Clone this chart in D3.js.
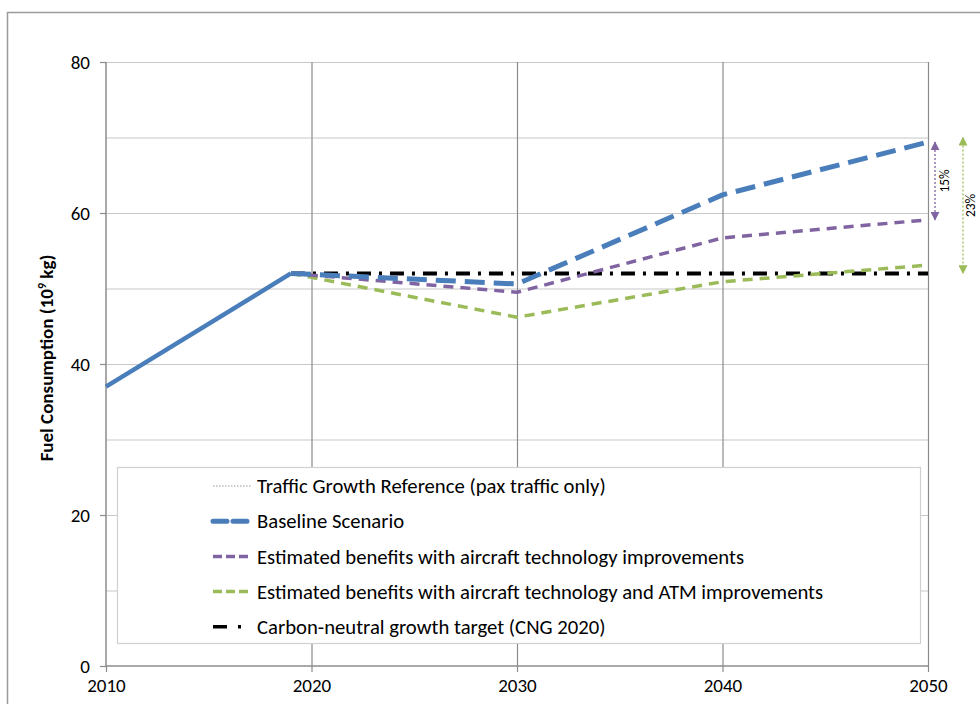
<!DOCTYPE html>
<html>
<head>
<meta charset="utf-8">
<script src="https://cdn.jsdelivr.net/npm/d3@7"></script>
<style>
  body { margin: 0; background: #fff; }
  svg text { font-family: Carlito, Calibri, Lato, "Open Sans", sans-serif; fill: #000; }
</style>
</head>
<body>
<svg id="chart" width="980" height="704"></svg>
<script>
// data
var histYears = [2010, 2019];
var histValues = [37, 52];

var projYears = [2019, 2030, 2040, 2050];
var baseline = [52, 50.6, 62.4, 69.4];
var aircraftTech = [52, 49.5, 56.7, 59.1];
var aircraftAtm = [52, 46.2, 50.9, 53.1];
var cngYears = [2019, 2050];
var cngValues = [52, 52];

var xTicks = [2010, 2020, 2030, 2040, 2050];
var yTicks = [0, 20, 40, 60, 80];
var yGrid = [10, 20, 30, 40, 50, 60, 70, 80];

var legendLabels = [
  "Traffic Growth Reference (pax traffic only)",
  "Baseline Scenario",
  "Estimated benefits with aircraft technology improvements",
  "Estimated benefits with aircraft technology and ATM improvements",
  "Carbon-neutral growth target (CNG 2020)"
];

var blue = "#4a7ebb", purple = "#8064a2", green = "#9bbb59";

var svg = d3.select("#chart");

// outer frame (runs off the right / bottom)
svg.append("rect")
  .attr("x", 7.5).attr("y", 12.5)
  .attr("width", 1000).attr("height", 1000)
  .attr("fill", "none").attr("stroke", "#9a9a9a").attr("stroke-width", 1.5);

var x = d3.scaleLinear().domain([2010, 2050]).range([106, 928]);
var y = d3.scaleLinear().domain([0, 80]).range([666, 62]);

// horizontal grid
svg.append("g").selectAll("line")
  .data(yGrid).enter().append("line")
  .attr("x1", x(2010)).attr("x2", x(2050))
  .attr("y1", function(d) { return y(d) + 0.5; })
  .attr("y2", function(d) { return y(d) + 0.5; })
  .attr("stroke", "#c8c8c8").attr("stroke-width", 1.2);

// vertical grid
svg.append("g").selectAll("line")
  .data(xTicks.slice(1)).enter().append("line")
  .attr("x1", function(d) { return x(d) + 0.5; })
  .attr("x2", function(d) { return x(d) + 0.5; })
  .attr("y1", y(80)).attr("y2", y(0))
  .attr("stroke", "#8c8c8c").attr("stroke-width", 1.2);

// axes
var yAxis = svg.append("g")
  .attr("transform", "translate(" + x(2010) + ",0)")
  .call(d3.axisLeft(y).tickValues(yTicks).tickSize(6).tickPadding(10));
var xAxis = svg.append("g")
  .attr("transform", "translate(0," + y(0) + ")")
  .call(d3.axisBottom(x).tickValues(xTicks).tickFormat(d3.format("d")).tickSize(6).tickPadding(7));

[yAxis, xAxis].forEach(function(a) {
  a.select(".domain").attr("stroke", "#8c8c8c").attr("stroke-width", 1.5);
  a.selectAll(".tick line").attr("stroke", "#8c8c8c").attr("stroke-width", 1.2);
  a.selectAll("text").attr("font-size", 19).attr("fill", "#000");
});
yAxis.select(".domain").remove();
yAxis.append("line").attr("y1", y(0)).attr("y2", y(80)).attr("stroke", "#8c8c8c").attr("stroke-width", 1.5);
xAxis.select(".domain").attr("d", "M" + x(2010) + ",0H" + x(2050));

// y label
var yl = svg.append("text")
  .attr("transform", "translate(53,358) rotate(-90)")
  .attr("text-anchor", "middle")
  .attr("font-size", 19).attr("font-weight", "bold");
yl.append("tspan").text("Fuel Consumption (10");
yl.append("tspan").attr("font-size", 12).attr("dy", -7).text("9");
yl.append("tspan").attr("dy", 7).text(" kg)");

var line = d3.line()
  .x(function(d) { return x(d[0]); })
  .y(function(d) { return y(d[1]); });

function series(years, vals, color, width, dash, cap) {
  svg.append("path")
    .datum(d3.zip(years, vals))
    .attr("d", line)
    .attr("fill", "none")
    .attr("stroke", color)
    .attr("stroke-width", width)
    .attr("stroke-dasharray", dash)
    .attr("stroke-linecap", cap || "butt")
    .attr("stroke-linejoin", "round");
}

series(histYears, histValues, blue, 4.5, null);
series(cngYears, cngValues, "#000", 4, "14,8,3,8");
series(projYears, aircraftAtm, green, 3.5, "10,7");
series(projYears, aircraftTech, purple, 3.5, "10,7");
series(projYears, baseline, blue, 5, "20,9");

// percentage arrows
svg.append("defs").selectAll("marker")
  .data([["pArr", purple], ["gArr", green]]).enter()
  .append("marker")
  .attr("id", function(d) { return d[0]; })
  .attr("viewBox", "0 0 10 10").attr("refX", 9).attr("refY", 5)
  .attr("markerWidth", 9).attr("markerHeight", 9)
  .attr("markerUnits", "userSpaceOnUse")
  .attr("orient", "auto-start-reverse")
  .append("path").attr("d", "M0,0L10,5L0,10Z")
  .attr("fill", function(d) { return d[1]; });

function arrow(xp, v1, v2, color, id, label, lx) {
  svg.append("line")
    .attr("x1", xp).attr("x2", xp)
    .attr("y1", y(v1)).attr("y2", y(v2))
    .attr("stroke", color).attr("stroke-width", 1.3)
    .attr("stroke-dasharray", "2,2")
    .attr("marker-start", "url(#" + id + ")")
    .attr("marker-end", "url(#" + id + ")");
  svg.append("text")
    .attr("transform", "translate(" + lx + "," + ((y(v1) + y(v2)) / 2) + ") rotate(-90)")
    .attr("text-anchor", "middle")
    .attr("font-size", 13.5)
    .text(label);
}
arrow(935, baseline[3], aircraftTech[3], purple, "pArr", "15%", 949);
arrow(963, 70, 52, green, "gArr", "23%", 975);

// legend
var lg = svg.append("g");
lg.append("rect")
  .attr("x", 117.5).attr("y", 467.5).attr("width", 803).attr("height", 176)
  .attr("fill", "#fff").attr("stroke", "#d0d0d0").attr("stroke-width", 1.2);

var legendStyles = [
  { c: "#999", w: 1.2, d: "1.5,1.5" },
  { c: blue, w: 5, d: "14,6", cap: "round" },
  { c: purple, w: 3.5, d: "9,4" },
  { c: green, w: 3.5, d: "9,4" },
  { c: "#000", w: 3.5, d: "14,11,3,20" }
];

var rows = lg.selectAll(".row")
  .data(legendLabels).enter().append("g")
  .attr("transform", function(d, i) { return "translate(0," + (486 + i * 35.2) + ")"; });

rows.append("line")
  .attr("x1", 213).attr("x2", 251).attr("y1", 0).attr("y2", 0)
  .attr("stroke", function(d, i) { return legendStyles[i].c; })
  .attr("stroke-width", function(d, i) { return legendStyles[i].w; })
  .attr("stroke-dasharray", function(d, i) { return legendStyles[i].d; })
  .attr("stroke-linecap", function(d, i) { return legendStyles[i].cap || "butt"; });

rows.append("text")
  .attr("x", 257).attr("y", 0).attr("dy", "0.35em")
  .attr("font-size", 20.7)
  .text(function(d) { return d; });
</script>
</body>
</html>
